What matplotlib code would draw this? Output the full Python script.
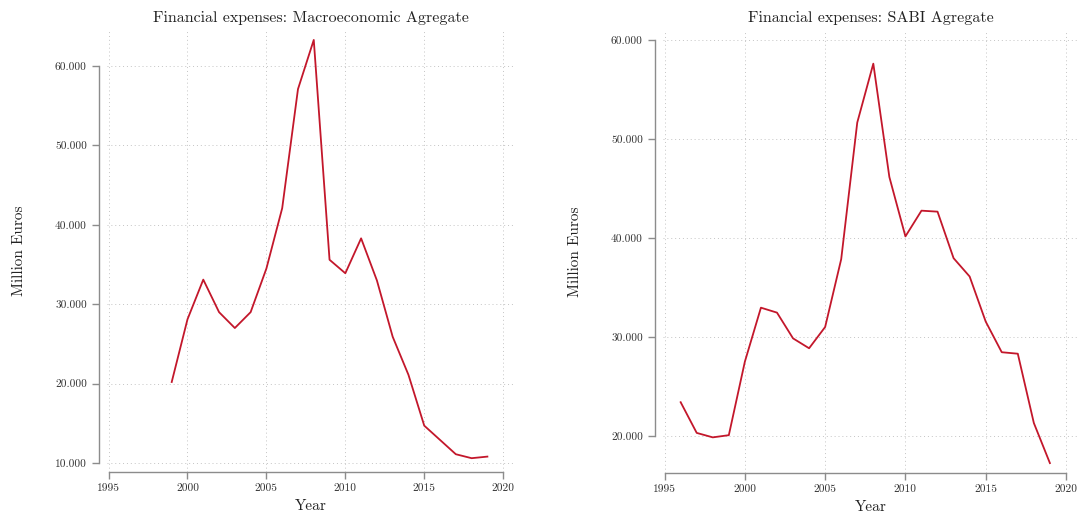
import matplotlib
matplotlib.use('Agg')
import matplotlib.pyplot as plt

# Financial expenses, million euros
years_macro = [1999, 2000, 2001, 2002, 2003, 2004, 2005, 2006, 2007, 2008, 2009,
               2010, 2011, 2012, 2013, 2014, 2015, 2016, 2017, 2018, 2019]
fe_macro = [20200, 28100, 33100, 29000, 27000, 29000, 34500, 42100, 57100, 63300, 35600,
            33900, 38300, 33000, 25900, 21100, 14700, 12900, 11100, 10600, 10800]

years_sabi = [1996, 1997, 1998, 1999, 2000, 2001, 2002, 2003, 2004, 2005, 2006, 2007,
              2008, 2009, 2010, 2011, 2012, 2013, 2014, 2015, 2016, 2017, 2018, 2019]
fe_sabi = [23400, 20300, 19850, 20070, 27500, 32950, 32450, 29850, 28850, 31000, 37850, 51650,
           57600, 46150, 40150, 42750, 42650, 37950, 36100, 31550, 28450, 28300, 21300, 17250]

xticks = [1995, 2000, 2005, 2010, 2015, 2020]
yticks_macro = [10000, 20000, 30000, 40000, 50000, 60000]
yticks_sabi = [20000, 30000, 40000, 50000, 60000]

plt.rcParams['font.family'] = ['cmr10', 'DejaVu Serif']
plt.rcParams['axes.unicode_minus'] = False

fig = plt.figure(figsize=(10.87, 5.15), dpi=100)
W, H = 1087, 515


def fmt(v):
    return f'{v:,}'.replace(',', '.')


def panel(rect, years, vals, yticks, ylim, title):
    x0, x1, ytop, ybot = rect
    ax = fig.add_axes([x0 / W, 1 - ybot / H, (x1 - x0) / W, (ybot - ytop) / H])
    ax.plot(years, vals, color='#c3172b', lw=1.3, zorder=3)
    ax.set_xlim(1994.9, 2020.75)
    ax.set_ylim(*ylim)
    ax.set_xticks(xticks)
    ax.set_xticklabels([str(t) for t in xticks])
    ax.set_yticks(yticks)
    ax.set_yticklabels([fmt(t) for t in yticks])
    ax.grid(True, ls=(0, (1, 3)), color='#c4c4c4', lw=0.7)
    for s in ['top', 'right']:
        ax.spines[s].set_visible(False)
    ax.spines['left'].set_position(('outward', 6))
    ax.spines['left'].set_bounds(yticks[0], yticks[-1])
    ax.spines['bottom'].set_bounds(1995, 2020)
    for s in ['left', 'bottom']:
        ax.spines[s].set_color('#8c8c8c')
        ax.spines[s].set_linewidth(1.0)
    ax.tick_params(axis='both', colors='#8c8c8c', labelcolor='#333333',
                   labelsize=8.2, length=5, width=1.0)
    ax.set_xlabel('Year', fontsize=11, color='#222222', labelpad=4)
    ax.set_ylabel('Million Euros', fontsize=11, color='#222222', labelpad=21)
    ax.set_title(title, fontsize=11.5, color='#222222', pad=6)
    return ax


panel((107, 515, 30, 472), years_macro, fe_macro, yticks_macro, (8860, 64550),
      'Financial expenses: Macroeconomic Agregate')
panel((663, 1078, 30, 473), years_sabi, fe_sabi, yticks_sabi, (16250, 61000),
      'Financial expenses: SABI Agregate')

fig.savefig('out.png', dpi=100)
